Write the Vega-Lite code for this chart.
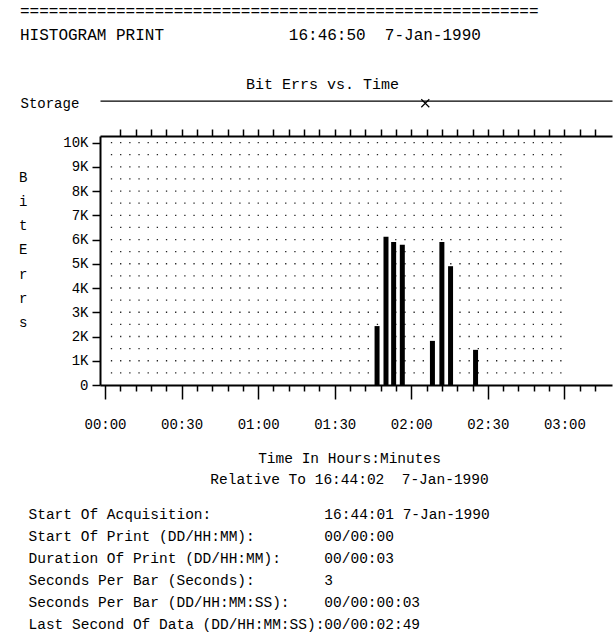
{
  "$schema": "https://vega.github.io/schema/vega-lite/v6.json",
  "width": 512,
  "height": 249,
  "autosize": {"type": "none"},
  "padding": {"left": 100, "top": 136, "right": 1, "bottom": 253},
  "background": "white",
  "config": {
    "view": {"stroke": null},
    "font": "Liberation Mono",
    "axis": {
      "labelFont": "Liberation Mono",
      "titleFont": "Liberation Mono",
      "labelColor": "black",
      "titleColor": "black",
      "domainColor": "black",
      "tickColor": "black",
      "grid": false,
      "titleFontWeight": "normal",
      "labelFontSize": 14,
      "titleFontSize": 14
    }
  },
  "title": {
    "text": [
      "======================================================",
      "HISTOGRAM PRINT\u00a0\u00a0\u00a0\u00a0\u00a0\u00a0\u00a0\u00a0\u00a0\u00a0\u00a0\u00a0\u00a016:46:50\u00a0\u00a07-Jan-1990"
    ],
    "anchor": "start",
    "frame": "group",
    "dx": -80,
    "font": "Liberation Mono",
    "fontSize": 16,
    "fontWeight": "normal",
    "lineHeight": 24,
    "color": "black",
    "offset": 33
  },
  "datasets": {
    "grid": [
      {"level": 500}, {"level": 1000}, {"level": 1500}, {"level": 2000},
      {"level": 2500}, {"level": 3000}, {"level": 3500}, {"level": 4000},
      {"level": 4500}, {"level": 5000}, {"level": 5500}, {"level": 6000},
      {"level": 6500}, {"level": 7000}, {"level": 7500}, {"level": 8000},
      {"level": 8500}, {"level": 9000}, {"level": 9500}, {"level": 10000}
    ],
    "bars": [
      {"minute": 106.6, "errors": 2430},
      {"minute": 110.1, "errors": 6110},
      {"minute": 113.1, "errors": 5900},
      {"minute": 116.5, "errors": 5780},
      {"minute": 128.3, "errors": 1820},
      {"minute": 132.0, "errors": 5900},
      {"minute": 135.4, "errors": 4900},
      {"minute": 145.2, "errors": 1450}
    ],
    "storage": [{"position": 125.5}]
  },
  "resolve": {"axis": {"x": "independent", "y": "independent"}},
  "layer": [
    {
      "data": {"name": "grid"},
      "mark": {"type": "rule", "strokeDash": [1.3, 7.87], "strokeWidth": 1.3, "color": "#222222"},
      "encoding": {
        "y": {
          "field": "level",
          "type": "quantitative",
          "scale": {"domain": [0, 10270], "nice": false, "zero": true},
          "axis": {
            "orient": "left",
            "values": [0, 1000, 2000, 3000, 4000, 5000, 6000, 7000, 8000, 9000, 10000],
            "tickSize": 8,
            "tickWidth": 1.5,
            "domainWidth": 2,
            "labelExpr": "datum.value === 0 ? '0' : (datum.value / 1000) + 'K'",
            "labelPadding": 4,
            "labelFontSize": 14,
            "labelOverlap": false,
            "labelFlush": false,
            "title": ["B", "i", "t", "\u00a0", "E", "r", "r", "s"],
            "titleAngle": 0,
            "titleAlign": "center",
            "titleBaseline": "middle",
            "titleX": -77.3,
            "titleY": 41.3,
            "titleLineHeight": 24.2,
            "titleFontSize": 14
          }
        },
        "x": {
          "datum": 2.3,
          "type": "quantitative",
          "scale": {"domain": [0, 196.7], "nice": false, "zero": false},
          "axis": {
            "orient": "bottom",
            "values": [0, 6, 12, 18, 24, 30, 36, 42, 48, 54, 60, 66, 72, 78, 84, 90, 96, 102, 108, 114, 120, 126, 132, 138, 144, 150, 156, 162, 168, 174, 180, 186, 192],
            "tickSize": {"condition": {"test": "datum.value % 30 === 0", "value": 14}, "value": 6},
            "tickWidth": 1.5,
            "domainWidth": 2,
            "labelExpr": "datum.value % 30 === 0 ? '0' + floor(datum.value / 60) + ':' + (datum.value % 60 === 0 ? '00' : '30') : ''",
            "labelPadding": 18,
            "labelFontSize": 14,
            "labelOverlap": false,
            "labelFlush": false,
            "labelBound": false,
            "title": ["Time In Hours:Minutes", "Relative To 16:44:02\u00a0\u00a07-Jan-1990"],
            "titleX": 249,
            "titleY": 73,
            "titleAlign": "center",
            "titleBaseline": "middle",
            "titleLineHeight": 21,
            "titleFontSize": 14.5
          }
        },
        "x2": {"datum": 178.9}
      }
    },
    {
      "data": {"name": "bars"},
      "mark": {"type": "bar", "size": 5, "color": "black"},
      "encoding": {
        "x": {
          "field": "minute",
          "type": "quantitative",
          "axis": {
            "orient": "top",
            "values": [6, 12, 18, 24, 30, 36, 42, 48, 54, 60, 66, 72, 78, 84, 90, 96, 102, 108, 114, 120, 126, 132, 138, 144, 150, 156, 162, 168, 174, 180, 186, 192],
            "tickSize": 7,
            "tickWidth": 1.5,
            "domainWidth": 2,
            "labels": false,
            "title": "Bit Errs vs. Time",
            "titleX": 222,
            "titleY": -53,
            "titleAlign": "center",
            "titleBaseline": "middle",
            "titleFontSize": 15
          }
        },
        "y": {
          "field": "errors",
          "type": "quantitative",
          "axis": {
            "orient": "left",
            "domain": false,
            "ticks": false,
            "labels": false,
            "title": [
              "Start Of Acquisition:\u00a0\u00a0\u00a0\u00a0\u00a0\u00a0\u00a0\u00a0\u00a0\u00a0\u00a0\u00a0\u00a016:44:01 7-Jan-1990",
              "Start Of Print (DD/HH:MM):\u00a0\u00a0\u00a0\u00a0\u00a0\u00a0\u00a0\u00a000/00:00",
              "Duration Of Print (DD/HH:MM):\u00a0\u00a0\u00a0\u00a0\u00a000/00:03",
              "Seconds Per Bar (Seconds):\u00a0\u00a0\u00a0\u00a0\u00a0\u00a0\u00a0\u00a03",
              "Seconds Per Bar (DD/HH:MM:SS):\u00a0\u00a0\u00a0\u00a000/00:00:03",
              "Last Second Of Data (DD/HH:MM:SS):00/00:02:49"
            ],
            "titleAngle": 0,
            "titleAlign": "left",
            "titleBaseline": "middle",
            "titleX": -72,
            "titleY": 378,
            "titleLineHeight": 22,
            "titleFontSize": 14.5
          }
        }
      }
    },
    {
      "data": {"name": "storage"},
      "mark": {"type": "point", "shape": "M-1,-1L1,1M-1,1L1,-1", "size": 64, "filled": false, "stroke": "black", "strokeWidth": 1.2, "opacity": 1},
      "encoding": {
        "x": {
          "field": "position",
          "type": "quantitative",
          "axis": {
            "orient": "top",
            "offset": 35.3,
            "ticks": false,
            "labels": false,
            "domainWidth": 1.3,
            "title": "Storage",
            "titleX": -80,
            "titleY": 3,
            "titleAlign": "left",
            "titleBaseline": "middle",
            "titleAngle": 0,
            "titleFontSize": 14
          }
        },
        "y": {"datum": 11620, "type": "quantitative", "axis": null}
      }
    }
  ]
}
